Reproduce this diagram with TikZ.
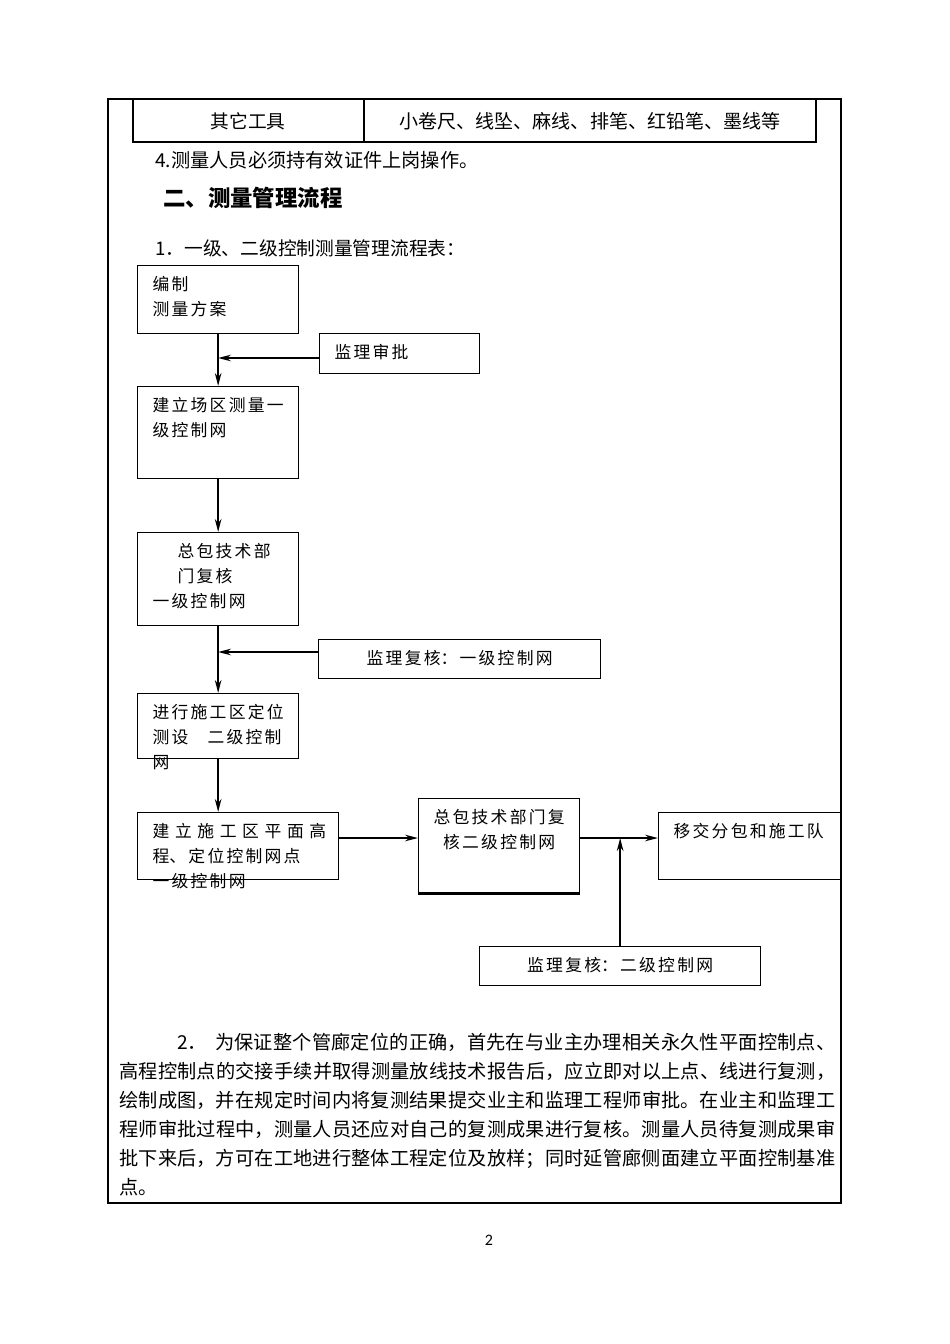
\documentclass[tikz,border=0pt]{standalone}
\usepackage{fontspec}
\setmainfont{Noto Sans CJK SC}
\newfontfamily\pagefont{Carlito}
\usetikzlibrary{arrows.meta}
\XeTeXlinebreaklocale "zh"
\XeTeXlinebreakskip=0pt plus 3pt\relax
\newdimen\px \px=0.625pt
% text inside the flow boxes: left set or centred, first line near the top
\newcommand{\lbox}[3]{\parbox[c][#2\px][t]{#1\px}{\raggedright\leftskip=15\px\relax\XeTeXlinebreakskip=1.4pt\relax\rule{0pt}{25\px}#3}}
\newcommand{\cbox}[3]{\parbox[c][#2\px][t]{#1\px}{\centering\XeTeXlinebreakskip=1.4pt\relax\rule{0pt}{25\px}#3}}
% one justified line of the paragraph
\newcommand{\bodyline}[2]{\parbox[b]{#1\px}{\parfillskip=0pt\relax #2}}

\tikzset{
  flowbox/.style={draw, line width=0.8pt, inner sep=0pt, anchor=north west,
    font=\fontsize{10.5}{15.6}\selectfont},
  flowarrow/.style={-{Stealth[length=8pt,width=4pt,inset=2.5pt]}, line width=1.4pt},
  toptext/.style={inner sep=0pt, text height=10.3pt, text depth=1.4pt,
    font=\fontsize{11.7}{14}\selectfont},
  bodytext/.style={anchor=west, inner sep=0pt, text height=10.56pt, text depth=1.44pt,
    font=\fontsize{12}{14}\selectfont},
}

\begin{document}
\begin{tikzpicture}[x=0.625pt, y=-0.625pt]
  \useasboundingbox (0,0) rectangle (950,1344);
  \fill[white] (0,0) rectangle (950,1344);

  % page frame and tool table
  \draw[line width=0.9pt] (108,99) rectangle (841,1203);
  \draw[line width=0.9pt] (133,99) rectangle (816,142) (364,99) -- (364,142);
  \node[toptext] (tool) at (248,121) {其它工具};
  \node[toptext, font=\fontsize{11.9}{14}\selectfont] (toollist) at (590,121) {小卷尺、线坠、麻线、排笔、红铅笔、墨线等};
  \node[toptext, anchor=west, font=\fontsize{12}{14}\selectfont] (cert) at (155,160) {4.测量人员必须持有效证件上岗操作。};
  \node[anchor=west, inner sep=0pt, font=\bfseries\fontsize{14}{16}\selectfont] (title) at (163,198) {二、测量管理流程};
  \node[toptext, anchor=west] (subtitle) at (155,248) {1．一级、二级控制测量管理流程表：};

  % flow boxes
  \node[flowbox] (b1) at (137,265) {\lbox{161}{68}{编制\\测量方案}};
  \node[flowbox] (b2) at (319,333) {\lbox{160}{40}{监理审批}};
  \node[flowbox] (b3) at (137,386) {\lbox{161}{92}{建立场区测量一\\级控制网}};
  \node[flowbox] (b4) at (137,532) {\lbox{161}{93}{\hspace*{25\px}总包技术部\\\hspace*{25\px}门复核\\一级控制网}};
  \node[flowbox] (b5) at (318,639) {\cbox{282}{39}{监理复核：一级控制网}};
  \node[flowbox] (b6) at (137,693) {\lbox{161}{65}{进行施工区定位\\测设　二级控制\\网}};
  \node[flowbox] (b7) at (137,812) {\lbox{201}{67}{{\XeTeXlinebreakskip=3.5pt\relax 建立施工区平面高}\\程、定位控制网点\\一级控制网}};
  \node[flowbox] (b8) at (418,798) {\cbox{161}{94}{总包技术部门复\\核二级控制网}};
  \node[flowbox] (b9) at (658,812) {\lbox{182}{67}{移交分包和施工队}};
  \node[flowbox] (b10) at (479,946) {\cbox{281}{39}{监理复核：二级控制网}};
  \draw[line width=1.8pt] (b8.south west) -- (b8.south east);

  % connectors
  \coordinate (j1) at (218,358);
  \coordinate (j2) at (218,652);
  \coordinate (rowy) at (0,838);
  \draw[flowarrow] (b1.south) -- (b3.north);
  \draw[flowarrow] (b2.west |- j1) -- (j1);
  \draw[flowarrow] (b3.south) -- (b4.north);
  \draw[flowarrow] (b4.south) -- (b6.north);
  \draw[flowarrow] (b5.west |- j2) -- (j2);
  \draw[flowarrow] (b6.south) -- (b6.south |- b7.north);
  \draw[flowarrow] (b7.east |- rowy) -- (b8.west |- rowy);
  \draw[flowarrow] (b8.east |- rowy) -- (b9.west |- rowy);
  \draw[flowarrow] (b10.north) -- (b10.north |- rowy);

  % paragraph 2
  \node[bodytext] (p1) at (177,1042) {\bodyline{658}{2．\hspace{5pt}为保证整个管廊定位的正确，首先在与业主办理相关永久性平面控制点、}};
  \node[bodytext] (p2) at (119,1071) {\bodyline{716}{高程控制点的交接手续并取得测量放线技术报告后，应立即对以上点、线进行复测，}};
  \node[bodytext] (p3) at (119,1100) {\bodyline{716}{绘制成图，并在规定时间内将复测结果提交业主和监理工程师审批。在业主和监理工}};
  \node[bodytext] (p4) at (119,1129) {\bodyline{716}{程师审批过程中，测量人员还应对自己的复测成果进行复核。测量人员待复测成果审}};
  \node[bodytext] (p5) at (119,1158) {\bodyline{716}{批下来后，方可在工地进行整体工程定位及放样；同时延管廊侧面建立平面控制基准}};
  \node[bodytext] (p6) at (119,1187) {点。};

  \node[inner sep=0pt, font=\pagefont\fontsize{10}{12}\selectfont] (pagenum) at (489,1240) {2};
\end{tikzpicture}
\end{document}
